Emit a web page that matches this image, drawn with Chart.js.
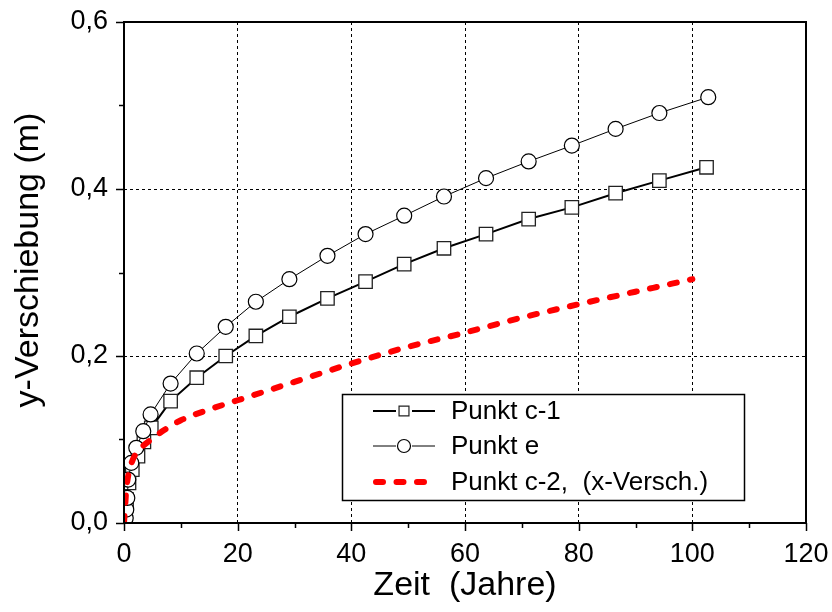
<!DOCTYPE html>
<html>
<head>
<meta charset="utf-8">
<script src="https://cdn.jsdelivr.net/npm/chart.js@4.4.1/dist/chart.umd.min.js"></script>
<style>
html,body{margin:0;padding:0;background:#fff;}
#wrap{width:832px;height:612px;}
</style>
</head>
<body>
<div id="wrap"><canvas id="c" width="832" height="612"></canvas></div>
<script>
// ---- data ----
const seriesNames = ['Punkt c-1', 'Punkt e', 'Punkt c-2,  (x-Versch.)'];

const c1X = [0.25, 0.45, 0.88, 1.46, 2.46, 3.5, 4.8, 8.2, 12.8, 17.9, 23.2, 29.1, 35.8, 42.5, 49.3, 56.3, 63.7, 71.2, 78.8, 86.5, 94.2, 102.5];
const c1Y = [0.010, 0.028, 0.048, 0.064, 0.080, 0.097, 0.114, 0.146, 0.174, 0.200, 0.224, 0.247, 0.269, 0.289, 0.310, 0.329, 0.346, 0.364, 0.378, 0.395, 0.410, 0.426];

const eX = [0.3, 0.4, 0.58, 0.75, 1.28, 2.16, 3.39, 4.68, 8.2, 12.8, 17.9, 23.2, 29.1, 35.8, 42.5, 49.3, 56.3, 63.7, 71.2, 78.8, 86.5, 94.2, 102.8];
const eY = [0.006, 0.016, 0.030, 0.052, 0.072, 0.090, 0.110, 0.130, 0.167, 0.203, 0.235, 0.265, 0.292, 0.320, 0.346, 0.368, 0.391, 0.413, 0.433, 0.452, 0.472, 0.491, 0.510];

const c2X = [0, 0.2, 0.4, 0.7, 1.0, 1.5, 2.0, 3.0, 4.0, 5.0, 7.0, 10, 15, 20, 25, 30, 40, 50, 60, 70, 80, 90, 100];
const c2Y = [0, 0.020, 0.040, 0.055, 0.065, 0.075, 0.082, 0.090, 0.096, 0.101, 0.111, 0.123, 0.136, 0.147, 0.158, 0.169, 0.191, 0.211, 0.228, 0.246, 0.262, 0.277, 0.292];

const xTickLabels = ['0', '20', '40', '60', '80', '100', '120'];
const yTickLabels = ['0,0', '0,2', '0,4', '0,6'];
const xTitle = 'Zeit  (Jahre)';
const yTitle = 'y-Verschiebung (m)';

const FONT = "'Liberation Sans', Arial, sans-serif";
const pts = (xs, ys) => xs.map((x, i) => ({x: x, y: ys[i]}));

// frame, tick marks and axis titles
const framePlugin = {
  id: 'frame',
  afterDatasetsDraw(chart) {
    const ctx = chart.ctx, a = chart.chartArea;
    const xs = chart.scales.x, ys = chart.scales.y;
    ctx.save();
    ctx.strokeStyle = '#000';
    ctx.lineWidth = 2;
    ctx.strokeRect(a.left, a.top, a.right - a.left, a.bottom - a.top);
    ctx.lineWidth = 1.5;
    ctx.beginPath();
    for (let v = 0; v <= 120; v += 10) {
      const px = Math.round(xs.getPixelForValue(v)) + 0.5;
      const len = (v % 20 === 0) ? 8 : 5;
      ctx.moveTo(px, a.bottom);
      ctx.lineTo(px, a.bottom + len);
    }
    for (let k = 0; k <= 6; k++) {
      const v = k / 10;
      const py = Math.round(ys.getPixelForValue(v)) + 0.5;
      const len = (k % 2 === 0) ? 8 : 5;
      ctx.moveTo(a.left, py);
      ctx.lineTo(a.left - len, py);
    }
    ctx.stroke();
    // axis titles
    ctx.fillStyle = '#000';
    ctx.textAlign = 'center';
    ctx.textBaseline = 'middle';
    ctx.font = '34px ' + FONT;
    ctx.fillText(xTitle, (a.left + a.right) / 2, 586);
    ctx.save();
    ctx.translate(29, 260);
    ctx.rotate(-Math.PI / 2);
    ctx.font = '34px ' + FONT;
    ctx.fillText(yTitle, 0, 0);
    ctx.restore();
    ctx.restore();
  }
};

// legend box inside the plot
const legendPlugin = {
  id: 'boxLegend',
  afterDraw(chart) {
    const ctx = chart.ctx;
    const bx = 342, by = 394, bw = 402, bh = 106;
    ctx.save();
    ctx.fillStyle = '#fff';
    ctx.fillRect(bx, by, bw, bh);
    ctx.strokeStyle = '#000';
    ctx.lineWidth = 1.5;
    ctx.strokeRect(bx + 0.5, by + 0.5, bw, bh);
    const rows = [411, 446, 482];
    const legendRadius = [7, 6.5, 0];
    [0, 1, 2].forEach((di, r) => {
      const ds = chart.data.datasets[di];
      const y = rows[r];
      const x1 = 373, x2 = 435, xm = (x1 + x2) / 2;
      ctx.save();
      ctx.strokeStyle = ds.borderColor;
      ctx.lineWidth = ds.borderWidth;
      ctx.lineCap = ds.borderCapStyle || 'butt';
      ctx.setLineDash(ds.borderDash || []);
      ctx.beginPath();
      if (ds.pointRadius > 0) {
        ctx.moveTo(x1, y); ctx.lineTo(xm - 8, y);
        ctx.moveTo(xm + 8, y); ctx.lineTo(x2, y);
      } else {
        ctx.moveTo(x1 + 3, y); ctx.lineTo(x2, y);
      }
      ctx.stroke();
      ctx.restore();
      if (ds.pointRadius > 0) {
        ctx.save();
        ctx.fillStyle = '#fff';
        ctx.strokeStyle = ds.pointBorderColor;
        ctx.lineWidth = 1.2;
        Chart.helpers.drawPoint(ctx, {pointStyle: ds.pointStyle, rotation: 0, radius: legendRadius[r], borderWidth: 1.2}, xm, y);
        ctx.restore();
      }
      ctx.fillStyle = '#000';
      ctx.font = '26px ' + FONT;
      ctx.textBaseline = 'middle';
      ctx.textAlign = 'left';
      ctx.fillText(ds.label, 451, y + 1);
    });
    ctx.restore();
  }
};

new Chart(document.getElementById('c'), {
  type: 'scatter',
  data: {
    datasets: [
      {
        label: seriesNames[0],
        data: pts(c1X, c1Y),
        showLine: true,
        borderColor: '#000',
        borderWidth: 2,
        pointStyle: 'rect',
        pointRadius: 9.5,
        pointBorderWidth: 1.3,
        pointBorderColor: '#222',
        pointBackgroundColor: '#fff',
        order: 3
      },
      {
        label: seriesNames[1],
        data: pts(eX, eY),
        showLine: true,
        borderColor: '#000',
        borderWidth: 1,
        pointStyle: 'circle',
        pointRadius: 7.5,
        pointBorderWidth: 1.2,
        pointBorderColor: '#000',
        pointBackgroundColor: '#fff',
        order: 2
      },
      {
        label: seriesNames[2],
        data: pts(c2X, c2Y),
        showLine: true,
        borderColor: '#ff0000',
        borderWidth: 6,
        borderDash: [7, 13.5],
        borderCapStyle: 'round',
        cubicInterpolationMode: 'monotone',
        pointRadius: 0,
        order: 1
      }
    ]
  },
  options: {
    responsive: false,
    animation: false,
    devicePixelRatio: 1,
    layout: {padding: {left: 0, top: 22, right: 26, bottom: 0}},
    plugins: {legend: {display: false}, tooltip: {enabled: false}},
    scales: {
      x: {
        type: 'linear', min: 0, max: 120,
        afterFit: s => { s.height = 89; s.paddingLeft = 0; s.paddingRight = 0; },
        border: {display: false, dash: [3, 3]},
        grid: {
          drawTicks: false,
          lineWidth: 1,
          color: c => (c.tick && (c.tick.value === 0 || c.tick.value === 120)) ? 'rgba(0,0,0,0)' : '#000'
        },
        ticks: {
          stepSize: 20, padding: 15, color: '#000',
          font: {family: FONT, size: 27},
          callback: (v, i) => xTickLabels[i]
        },
        title: {display: false, text: xTitle}
      },
      y: {
        type: 'linear', min: 0, max: 0.6,
        afterFit: s => { s.width = 124; s.paddingTop = 0; s.paddingBottom = 0; },
        border: {display: false, dash: [3, 3]},
        grid: {
          drawTicks: false,
          lineWidth: 1,
          color: c => (c.tick && (Math.abs(c.tick.value) < 1e-9 || Math.abs(c.tick.value - 0.6) < 1e-9)) ? 'rgba(0,0,0,0)' : '#000'
        },
        ticks: {
          stepSize: 0.2, padding: 16, color: '#000',
          font: {family: FONT, size: 27},
          callback: (v, i) => yTickLabels[i]
        },
        title: {display: false, text: yTitle}
      }
    }
  },
  plugins: [framePlugin, legendPlugin]
});
</script>
</body>
</html>
